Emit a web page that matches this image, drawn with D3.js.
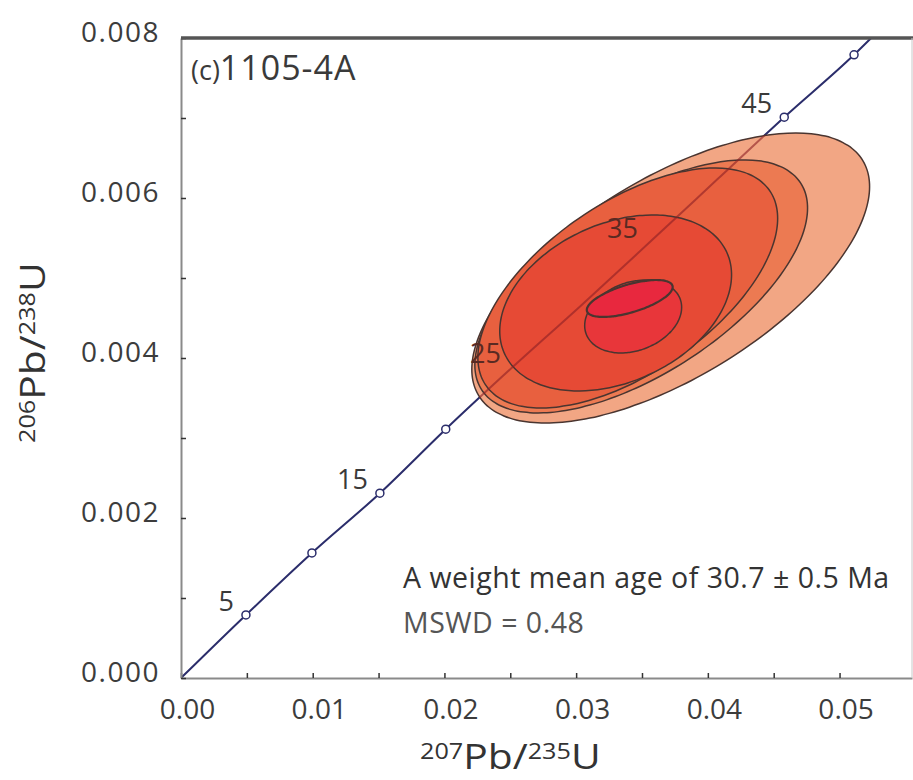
<!DOCTYPE html>
<html>
<head>
<script src="https://d3js.org/d3.v7.min.js"></script>
<style>
    body {
        margin: 0;
        background: #fff;
        font-family: "Open Sans", sans-serif;
    }
    .tick text {
        fill: #3c3c3c;
    }
</style>
</head>
<body>
<script>
    // concordia ages and their ratios
    var ages = [0, 5, 10, 15, 20, 25, 30, 35, 40, 45, 50];
    var concX = [0, 0.00493, 0.00994, 0.0151, 0.0201, 0.0252, 0.0304, 0.0356, 0.0407, 0.0458, 0.0511];
    var concY = [0, 0.000788, 0.001563, 0.00231, 0.00311, 0.00389, 0.00466, 0.00545, 0.00623, 0.00701, 0.00779];
    var concEnd = [0.0524, 0.0080]; // where the curve leaves the top of the frame
    var labelledAges = [5, 15, 25, 35, 45];

    // error ellipses: centre, half-extent on each axis, correlation
    var ellCx = [0.03718, 0.03494, 0.03392, 0.0330, 0.03433, 0.03407];
    var ellCy = [0.00500, 0.004894, 0.004875, 0.004688, 0.004519, 0.004744];
    var ellSx = [0.01510, 0.01263, 0.01138, 0.0088, 0.00368, 0.00326];
    var ellSy = [0.001813, 0.001581, 0.0015, 0.0011, 0.000456, 0.000231];
    var ellRho = [0.63, 0.62, 0.58, 0.32, 0.25, 0.62];
    var ellFill = ["#f2a684", "#ec7a52", "#e8603f", "#e64a35", "#e8363a", "#e8283e"];

    // axes
    var xMax = 0.0555, yMax = 0.008;
    var xMajor = [0, 0.01, 0.02, 0.03, 0.04, 0.05];
    var xLabels = ["0.00", "0.01", "0.02", "0.03", "0.04", "0.05"];
    var xMinor = [0.005, 0.015, 0.025, 0.035, 0.045];
    var yMajor = [0, 0.002, 0.004, 0.006, 0.008];
    var yLabels = ["0.000", "0.002", "0.004", "0.006", "0.008"];
    var yMinor = [0.001, 0.003, 0.005, 0.007];

    var margin = {top: 38, right: 1, bottom: 102, left: 181},
        width = 913 - margin.left - margin.right,
        height = 780 - margin.top - margin.bottom;

    var x = d3.scaleLinear().domain([0, xMax]).range([0, width]);
    var y = d3.scaleLinear().domain([0, yMax]).range([height, 0]);

    var root = d3.select("body").append("svg")
        .attr("width", 913)
        .attr("height", 780);
    var svg = root.append("g")
        .attr("transform", "translate(" + margin.left + "," + margin.top + ")");

    svg.append("clipPath").attr("id", "plot")
        .append("rect").attr("width", width).attr("height", height);

    var plot = svg.append("g").attr("clip-path", "url(#plot)");

    var concPts = ages.map(function(a, i) { return [concX[i], concY[i]]; });
    concPts.push(concEnd);

    var line = d3.line()
        .x(function(d) { return x(d[0]); })
        .y(function(d) { return y(d[1]); })
        .curve(d3.curveMonotoneX);

    // concordia under the ellipses
    plot.append("path")
        .attr("d", line(concPts))
        .attr("fill", "none")
        .attr("stroke", "#2b2d6b")
        .attr("stroke-width", 2);

    plot.selectAll(".marker")
        .data(ages.slice(1))
        .enter().append("circle")
        .attr("class", "marker")
        .attr("cx", function(a) { return x(concX[ages.indexOf(a)]); })
        .attr("cy", function(a) { return y(concY[ages.indexOf(a)]); })
        .attr("r", 4)
        .attr("fill", "#fff")
        .attr("stroke", "#2b2d6b")
        .attr("stroke-width", 1.5);

    function ellipsePoints(i) {
        var r = ellRho[i], q = Math.sqrt(1 - r * r);
        return d3.range(0, 360, 3).map(function(deg) {
            var t = deg * Math.PI / 180;
            return [ellCx[i] + ellSx[i] * Math.cos(t),
                    ellCy[i] + ellSy[i] * (r * Math.cos(t) + q * Math.sin(t))];
        });
    }

    var ellLine = d3.line()
        .x(function(d) { return x(d[0]); })
        .y(function(d) { return y(d[1]); })
        .curve(d3.curveCardinalClosed);

    plot.selectAll(".ell")
        .data(ellCx.map(function(d, i) { return i; }))
        .enter().append("path")
        .attr("class", "ell")
        .attr("d", function(i) { return ellLine(ellipsePoints(i)); })
        .attr("fill", function(i) { return ellFill[i]; })
        .attr("stroke", "#4a3530")
        .attr("stroke-width", function(i) { return i == 5 ? 2.2 : 1.5; });

    // the curve shows through the ellipses as a dark red line
    svg.append("clipPath").attr("id", "outer")
        .append("path").attr("d", ellLine(ellipsePoints(0)));
    plot.append("g").attr("clip-path", "url(#outer)")
        .append("path")
        .attr("d", line(concPts))
        .attr("fill", "none")
        .attr("stroke", "#8c1f24")
        .attr("stroke-opacity", 0.6)
        .attr("stroke-width", 2);

    plot.selectAll(".agelab")
        .data(labelledAges)
        .enter().append("text")
        .attr("class", "agelab")
        .attr("x", function(a) { return x(concX[ages.indexOf(a)]) - 12; })
        .attr("y", function(a) { return y(concY[ages.indexOf(a)]) - 4; })
        .attr("text-anchor", "end")
        .attr("font-size", 27)
        .attr("fill", function(a) { return (a == 25 || a == 35) ? "#5a2a22" : "#3a3a3a"; })
        .text(function(a) { return a; });

    // x axis
    var xAxis = svg.append("g")
        .attr("transform", "translate(0," + height + ")")
        .call(d3.axisBottom(x)
            .tickValues(xMajor.concat(xMinor))
            .tickSizeInner(-5)
            .tickSizeOuter(0)
            .tickPadding(21)
            .tickFormat(function(d) {
                var k = xMajor.indexOf(d);
                return k >= 0 ? xLabels[k] : "";
            }));
    xAxis.select(".domain").attr("stroke", "#8a8a8a").attr("stroke-width", 2);
    xAxis.selectAll(".tick line").attr("stroke", "#333").attr("stroke-width", 1.5);
    xAxis.selectAll("text").attr("font-size", 28).attr("dx", 6)
        .attr("font-family", "Open Sans");

    // y axis
    var yAxis = svg.append("g")
        .call(d3.axisLeft(y)
            .tickValues(yMajor.concat(yMinor))
            .tickSizeInner(-5)
            .tickSizeOuter(0)
            .tickPadding(21)
            .tickFormat(function(d) {
                var k = yMajor.indexOf(d);
                return k >= 0 ? yLabels[k] : "";
            }));
    yAxis.select(".domain").attr("stroke", "#8a8a8a").attr("stroke-width", 2);
    yAxis.selectAll(".tick line").attr("stroke", "#333").attr("stroke-width", 1.5);
    yAxis.selectAll("text").attr("font-size", 28).attr("dy", "0.14em")
        .attr("letter-spacing", 1.5)
        .attr("font-family", "Open Sans");

    // frame top and right
    svg.append("line")
        .attr("x1", 0).attr("x2", width + 1)
        .attr("y1", 0).attr("y2", 0)
        .attr("stroke", "#555").attr("stroke-width", 3.5);
    svg.append("line")
        .attr("x1", width).attr("x2", width)
        .attr("y1", 0).attr("y2", height)
        .attr("stroke", "#c8c8c8").attr("stroke-width", 1);

    // sample name
    var nm = svg.append("text")
        .attr("x", 10).attr("y", 42)
        .attr("fill", "#3a3a3a");
    nm.append("tspan").attr("font-size", 27).text("(c)");
    nm.append("tspan").attr("font-size", 34).attr("letter-spacing", 1).text("1105-4A");

    // age note
    svg.append("text")
        .attr("x", 222).attr("y", 550)
        .attr("font-size", 28.5).attr("letter-spacing", 0.5).attr("fill", "#333")
        .text("A weight mean age of 30.7 \u00b1 0.5 Ma");
    svg.append("text")
        .attr("x", 222).attr("y", 595)
        .attr("font-size", 28.5).attr("letter-spacing", 0.5).attr("fill", "#555")
        .text("MSWD = 0.48");

    // axis titles
    var xt = root.append("text")
        .attr("transform", "translate(420,769) scale(1.2,1)")
        .attr("fill", "#333");
    xt.append("tspan").attr("font-size", 21).attr("dy", -10).text("207");
    xt.append("tspan").attr("font-size", 34).attr("dy", 10).text("Pb/");
    xt.append("tspan").attr("font-size", 21).attr("dy", -10).text("235");
    xt.append("tspan").attr("font-size", 34).attr("dy", 10).text("U");

    var yt = root.append("text")
        .attr("transform", "translate(45,443) rotate(-90) scale(1.2,1)")
        .attr("fill", "#333");
    yt.append("tspan").attr("font-size", 21).attr("dy", -10).text("206");
    yt.append("tspan").attr("font-size", 34).attr("dy", 10).text("Pb/");
    yt.append("tspan").attr("font-size", 21).attr("dy", -10).text("238");
    yt.append("tspan").attr("font-size", 34).attr("dy", 10).text("U");
</script>
</body>
</html>
